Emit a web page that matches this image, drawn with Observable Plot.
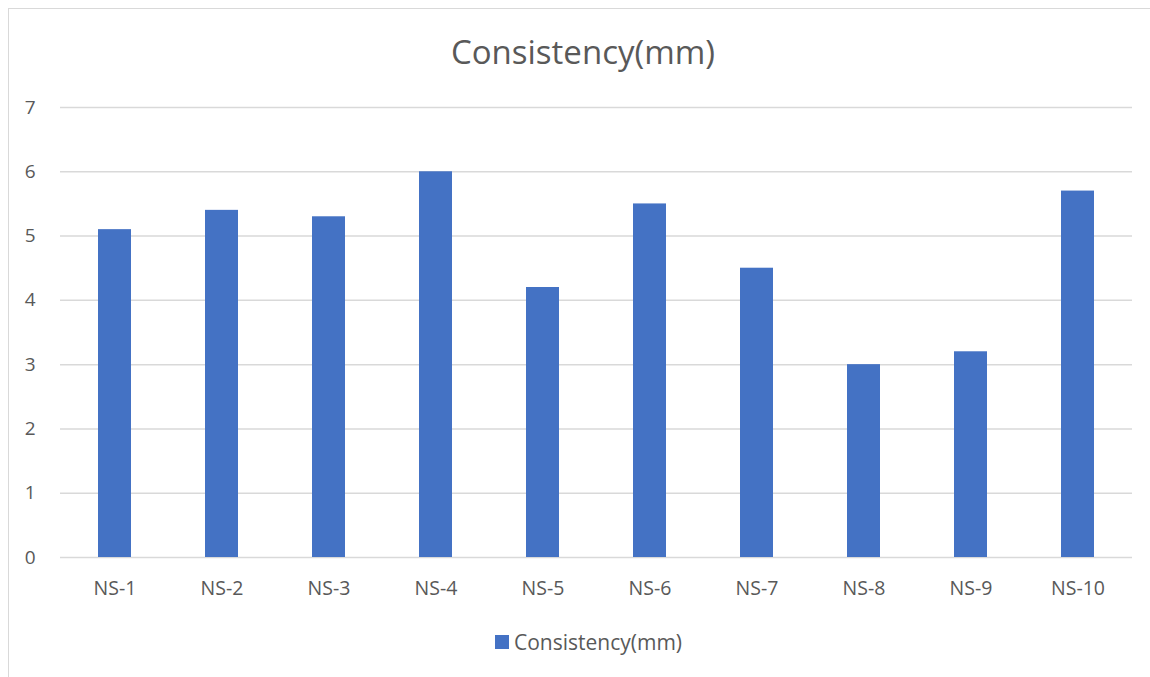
<!DOCTYPE html>
<html>
<head>
<meta charset="utf-8">
<script src="https://cdn.jsdelivr.net/npm/d3@7"></script>
<script src="https://cdn.jsdelivr.net/npm/@observablehq/plot@0.6"></script>
<style>
  html, body { margin: 0; padding: 0; background: #fff; overflow: hidden; }
  body { width: 1150px; height: 677px; position: relative; font-family: "Open Sans", Lato, sans-serif; color: #595959; }
  #frame { position: absolute; left: 8px; top: 8px; width: 1170px; height: 700px; border: 1.5px solid #d9d9d9; box-sizing: border-box; }
  #title { position: absolute; left: 0; top: 0; width: 1166px; height: 80px; text-align: center; font-size: 33px; line-height: 33px; padding-top: 35px; box-sizing: border-box; color: #595959; }
  #chart { position: absolute; left: 0; top: 80px; }
  #legend { position: absolute; left: 0; top: 615px; width: 1150px; height: 62px; display: flex; justify-content: center; align-items: flex-start; padding-top: 13px; padding-left: 27px; box-sizing: border-box; font-size: 21px; color: #595959; }
  #legend .sw { width: 14px; height: 14px; background: #4472C4; margin-right: 5px; margin-top: 7px; }
</style>
</head>
<body>
<div id="frame"></div>
<div id="title">Consistency(mm)</div>
<div id="chart"></div>
<div id="legend"><span class="sw"></span><span>Consistency(mm)</span></div>
<script>
// Sample labels and measured consistency (mm)
const samples = ["NS-1", "NS-2", "NS-3", "NS-4", "NS-5", "NS-6", "NS-7", "NS-8", "NS-9", "NS-10"];
const consistency = [5.1, 5.4, 5.3, 6.0, 4.2, 5.5, 4.5, 3.0, 3.2, 5.7];
const yTicks = [0, 1, 2, 3, 4, 5, 6, 7];

const rows = samples.map((s, i) => ({sample: s, value: consistency[i]}));

const chart = Plot.plot({
  width: 1150,
  height: 535,
  marginTop: 27,
  marginBottom: 58,
  marginLeft: 60,
  marginRight: 18,
  style: {fontFamily: "'Open Sans', Lato, sans-serif", fontSize: "19px", color: "#595959", background: "transparent"},
  x: {domain: samples, padding: 0, label: null},
  y: {domain: [0, 7], label: null},
  marks: [
    Plot.ruleY(yTicks, {stroke: "#d9d9d9", strokeWidth: 1.5}),
    Plot.barY(rows, {x: "sample", y: "value", fill: "#4472C4", insetLeft: 37, insetRight: 37}),
    Plot.axisY(yTicks, {tickSize: 0, tickPadding: 25, tickFormat: "d", fontSize: 19, fill: "#595959", label: null}),
    Plot.axisX({tickSize: 0, tickPadding: 24, fontSize: 19.5, fill: "#595959", label: null})
  ]
});
document.getElementById("chart").appendChild(chart);
</script>
</body>
</html>
